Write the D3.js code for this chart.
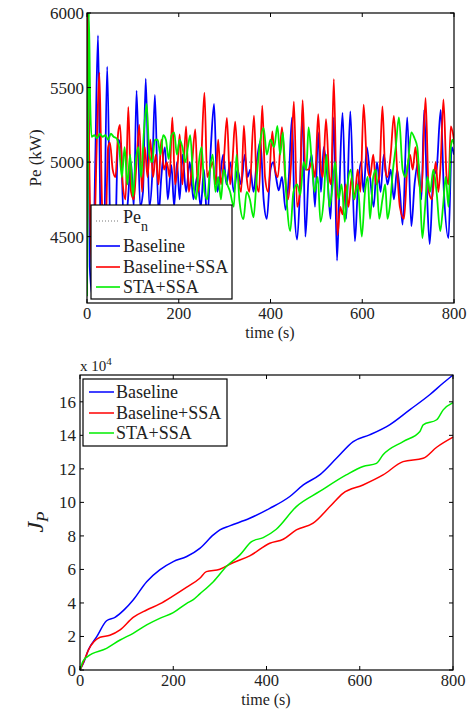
<!DOCTYPE html>
<html><head><meta charset="utf-8">
<script src="https://cdn.jsdelivr.net/npm/d3@7"></script>
<style>
body{margin:0;background:#fff;}
svg text{font-family:"Liberation Serif","Times New Roman","DejaVu Serif",serif;fill:#222;}
</style></head>
<body><svg id="c" width="470" height="709" font-family="Liberation Serif, Times New Roman, serif"></svg>
<script>
// ---------- top chart data (time s, Pe kW) ----------
const baseT = [0,2,6,12,18,24,30,36,44,52,60,68,74,80,88,96,102,108,116,122,128,136,142,148,156,162,170,176,184,190,196,202,208,216,224,232,240,248,255,262,270,277,284,290,297,304,312,320,328,336,344,350,356,363,370,378,385,392,400,406,412,418,425,433,440,447,452,458,464,470,476,483,490,497,504,510,516,524,531,538,545,550,557,565,574,584,590,597,603,610,617,625,632,640,647,655,662,669,676,682,688,698,707,714,722,729,735,741,747,755,762,771,778,788,795,800];
const baseV = [4200,6000,4300,4100,5000,5850,4500,4300,5640,4400,4350,5150,5100,4600,4700,5000,4700,5480,4700,4800,5560,4700,4900,5450,4650,4900,5100,4750,4980,4700,5000,4750,5050,4800,5000,4750,4900,4700,4950,4600,5100,5390,4800,4900,5050,4850,5000,4800,4950,4850,5050,4900,4950,4800,5000,5140,4750,4620,4950,5000,4900,4810,4900,4680,4900,5300,4700,4480,4800,5350,4500,4900,5050,4700,5200,4800,5100,4900,4620,5300,4340,4800,5330,4620,5340,4470,4800,5000,4800,5100,4900,4700,5000,4800,5050,4850,4950,4750,4950,4800,4580,5300,4570,4850,5000,4750,5350,4800,4450,4900,4950,5350,4800,4490,5100,5050];
const ssaT = [0,1,5,10,16,22,27,33,40,46,50,56,62,68,72,78,84,90,96,102,108,114,120,126,132,138,144,150,156,162,168,174,180,186,192,198,202,208,216,222,228,236,242,248,256,262,268,274,280,286,292,298,305,312,317,323,330,336,342,348,354,364,370,375,382,388,395,404,410,416,425,432,438,445,451,458,464,470,476,483,490,497,504,510,514,521,528,532,538,546,552,557,564,570,577,583,590,596,603,610,617,624,630,637,644,650,655,662,669,676,682,691,698,704,710,716,722,729,738,745,752,760,766,771,777,784,788,793,800];
const ssaV = [4400,6000,5000,4300,4500,5200,5600,4700,4500,5100,5130,4950,4900,5200,5250,4850,4750,5370,4800,4750,5000,5250,4800,5100,4900,5150,4900,5050,4850,5150,4950,5000,4900,5300,4850,5000,5185,4850,5240,4800,4950,5220,4800,4950,5465,4900,4950,5000,4850,5150,4850,5000,5297,4850,5000,5271,4900,4800,5244,4900,4800,5311,4850,4800,5378,4900,4800,5206,4950,4900,5235,4900,4750,5000,5405,4700,4800,5416,4950,4950,5000,4900,5321,4950,4900,5288,4900,4850,5557,4510,4700,4650,4850,4700,4900,4750,4950,4800,5385,5000,4900,5050,4850,4900,5374,4950,4900,5050,5310,4950,4700,4620,4950,5050,4950,5100,4900,4800,5430,4800,4750,5000,4800,5000,5420,4900,4850,5240,5150];
const staT = [0,2,4,7,10,16,22,28,34,40,46,52,58,64,70,76,82,88,94,100,106,112,118,124,130,136,142,148,154,160,166,172,178,184,190,196,202,208,214,220,225,232,238,244,250,256,262,268,274,280,286,292,298,306,312,320,326,332,341,348,355,363,370,378,385,392,400,408,415,421,427,434,443,450,458,465,472,478,483,490,496,503,509,516,522,528,534,541,548,555,562,568,575,582,590,599,606,612,617,624,630,637,644,650,655,660,667,673,680,688,694,700,707,714,720,726,731,737,742,748,755,762,770,776,782,788,793,797,800];
const staV = [4100,5000,6000,5400,5170,5180,5160,5190,5170,5180,5150,5190,5170,5160,5100,4900,5100,4850,5050,4770,5000,5100,4900,5200,5390,5050,5000,5150,5150,5050,5180,5150,5020,5180,5200,5050,5150,5100,5000,5100,5180,4850,4750,5000,5100,4800,4750,4950,5050,4800,4900,4750,4950,4850,4800,4700,5050,4750,4617,4800,4750,4630,4900,5150,5230,5050,5150,5100,5243,5050,5200,4800,4538,4800,4850,4780,5000,4950,5233,5000,4800,4900,4600,4750,5050,4700,4800,5000,4750,4850,4600,4850,4950,4750,4850,4500,4800,4900,4620,4900,4950,4620,4750,4850,4620,4700,4950,5100,5300,4950,4900,5000,5200,5160,5100,4800,4490,4700,4900,4800,4950,4800,4537,4700,4900,4700,5100,5150,5120];
const PeN = 5000;
const topXTicks = [0,200,400,600,800];
const topYTicks = [4500,5000,5500,6000];

// ---------- bottom chart data (time s, J_P x1e4) ----------
const jBaseT = [0,8,18,36,57,75,95,114,143,171,200,229,257,286,300,321,364,407,450,479,514,550,586,621,664,707,750,779,800];
const jBaseV = [0,0.45,1.2,1.99,2.94,3.14,3.6,4.18,5.27,5.97,6.47,6.77,7.26,8.06,8.36,8.6,9.05,9.64,10.35,11.04,11.64,12.63,13.63,14.03,14.63,15.52,16.42,17.12,17.6];
const jSsaT = [0,8,18,43,64,86,114,143,171,200,229,257,271,300,328,364,407,436,464,500,536,564,607,650,693,736,765,800];
const jSsaV = [0,0.5,1.19,1.95,2.07,2.39,3.14,3.58,3.94,4.42,4.94,5.47,5.87,6.01,6.4,6.81,7.56,7.8,8.36,8.76,9.75,10.54,11.04,11.64,12.43,12.63,13.29,13.89];
const jStaT = [0,6,16,57,86,114,143,171,200,229,243,257,286,314,343,368,393,421,464,514,571,607,636,650,693,729,736,765,779,800];
const jStaV = [0,0.5,0.8,1.29,1.79,2.19,2.69,3.08,3.42,3.98,4.2,4.54,5.27,6.17,6.87,7.66,7.9,8.4,9.75,10.65,11.64,12.14,12.33,12.84,13.63,14.23,14.63,14.93,15.52,15.95];
const botXTicks = [0,200,400,600,800];
const botYTicks = [0,2,4,6,8,10,12,14,16];

const names = ["Baseline","Baseline+SSA","STA+SSA"];
const colors = ["#0000ff","#ff0000","#00ee00"];

const svg = d3.select("#c");
const FF = "Liberation Serif, Times New Roman, serif";

function frame(g, x, y, xt, yt, left, right, top, bottom, tl) {
  g.append("rect").attr("x",left).attr("y",top).attr("width",right-left).attr("height",bottom-top)
    .attr("fill","none").attr("stroke","#000").attr("stroke-width",1.2);
  xt.forEach(v=>{
    const px = x(v);
    g.append("line").attr("x1",px).attr("x2",px).attr("y1",bottom).attr("y2",bottom-tl).attr("stroke","#000");
    g.append("line").attr("x1",px).attr("x2",px).attr("y1",top).attr("y2",top+tl).attr("stroke","#000");
  });
  yt.forEach(v=>{
    const py = y(v);
    g.append("line").attr("x1",left).attr("x2",left+tl).attr("y1",py).attr("y2",py).attr("stroke","#000");
    g.append("line").attr("x1",right).attr("x2",right-tl).attr("y1",py).attr("y2",py).attr("stroke","#000");
  });
}
function txt(g,x,y,s,size,anchor){
  return g.append("text").attr("x",x).attr("y",y).attr("font-family",FF).attr("font-size",size)
    .attr("text-anchor",anchor||"start").text(s);
}

// ================= TOP =================
{
  const L=87, R=454, T=13, B=303;
  const x = d3.scaleLinear().domain([0,800]).range([L,R]);
  const y = d3.scaleLinear().domain([4055,6000]).range([B,T]);
  const g = svg.append("g");
  g.append("clipPath").attr("id","clipTop").append("rect").attr("x",L).attr("y",T).attr("width",R-L).attr("height",B-T);
  const plot = g.append("g").attr("clip-path","url(#clipTop)");
  plot.append("line").attr("x1",x(0)).attr("x2",x(800)).attr("y1",y(PeN)).attr("y2",y(PeN))
    .attr("stroke","#777").attr("stroke-dasharray","1,2").attr("stroke-width",1);
  const series = [[baseT,baseV],[ssaT,ssaV],[staT,staV]];
  const line = d3.line().x(d=>x(d[0])).y(d=>y(d[1])).curve(d3.curveMonotoneX);
  series.forEach((s,i)=>{
    const data = s[0].map((t,k)=>[t,s[1][k]]);
    plot.append("path").attr("d",line(data)).attr("fill","none").attr("stroke",colors[i]).attr("stroke-width",1.8).attr("stroke-linejoin","round");
  });
  frame(g,x,y,topXTicks,topYTicks,L,R,T,B,4);
  topXTicks.forEach(v=>txt(g,x(v),319,v,16.5,"middle"));
  topYTicks.forEach(v=>txt(g,84,y(v)+6,v,17,"end"));
  txt(g,270,338,"time (s)",16,"middle");
  g.append("text").attr("transform","translate(41,158) rotate(-90)").attr("text-anchor","middle")
    .attr("font-family",FF).attr("font-size",17).text("Pe (kW)");
  const lg = g.append("g");
  lg.append("rect").attr("x",91).attr("y",205).attr("width",141).attr("height",94).attr("fill","#fff").attr("stroke","#000").attr("stroke-width",1.2);
  lg.append("line").attr("x1",96).attr("x2",120).attr("y1",221).attr("y2",221).attr("stroke","#777").attr("stroke-dasharray","1,2");
  const pe = txt(lg,123,223,"",18);
  pe.append("tspan").text("Pe");
  pe.append("tspan").attr("dy",8).attr("font-size",14).text("n");
  const ly = [246,267,287];
  names.forEach((n,i)=>{
    lg.append("line").attr("x1",96).attr("x2",120).attr("y1",ly[i]).attr("y2",ly[i]).attr("stroke",colors[i]).attr("stroke-width",1.6);
    txt(lg,123,ly[i]+6,n,18);
  });
}

// ================= BOTTOM =================
{
  const L=80, R=453, T=375, B=670;
  const x = d3.scaleLinear().domain([0,800]).range([L,R]);
  const y = d3.scaleLinear().domain([0,17.6]).range([B,T]);
  const g = svg.append("g");
  const series = [[jBaseT,jBaseV],[jSsaT,jSsaV],[jStaT,jStaV]];
  const line = d3.line().x(d=>x(d[0])).y(d=>y(d[1])).curve(d3.curveMonotoneX);
  series.forEach((s,i)=>{
    const data = s[0].map((t,k)=>[t,s[1][k]]);
    g.append("path").attr("d",line(data)).attr("fill","none").attr("stroke",colors[i]).attr("stroke-width",1.5);
  });
  frame(g,x,y,botXTicks,botYTicks,L,R,T,B,4);
  botXTicks.forEach(v=>txt(g,x(v),686,v,16.5,"middle"));
  botYTicks.forEach(v=>txt(g,76,y(v)+6,v,17,"end"));
  txt(g,266,705,"time (s)",16,"middle");
  const ex = txt(g,80,371,"",15);
  ex.append("tspan").text("x 10");
  ex.append("tspan").attr("dy",-6).attr("font-size",11).text("4");
  const jl = g.append("text").attr("transform","translate(43,522) rotate(-90)").attr("text-anchor","middle")
    .attr("font-family",FF).attr("font-size",24).attr("font-style","italic");
  jl.append("tspan").text("J");
  jl.append("tspan").attr("dy",5).attr("font-size",17).text("P");
  const lg = g.append("g");
  lg.append("rect").attr("x",83).attr("y",379).attr("width",144).attr("height",67).attr("fill","#fff").attr("stroke","#000").attr("stroke-width",1.2);
  const ly = [392,413,433];
  names.forEach((n,i)=>{
    lg.append("line").attr("x1",89).attr("x2",114).attr("y1",ly[i]).attr("y2",ly[i]).attr("stroke",colors[i]).attr("stroke-width",1.5);
    txt(lg,116,ly[i]+6,n,18);
  });
}
</script></body></html>
